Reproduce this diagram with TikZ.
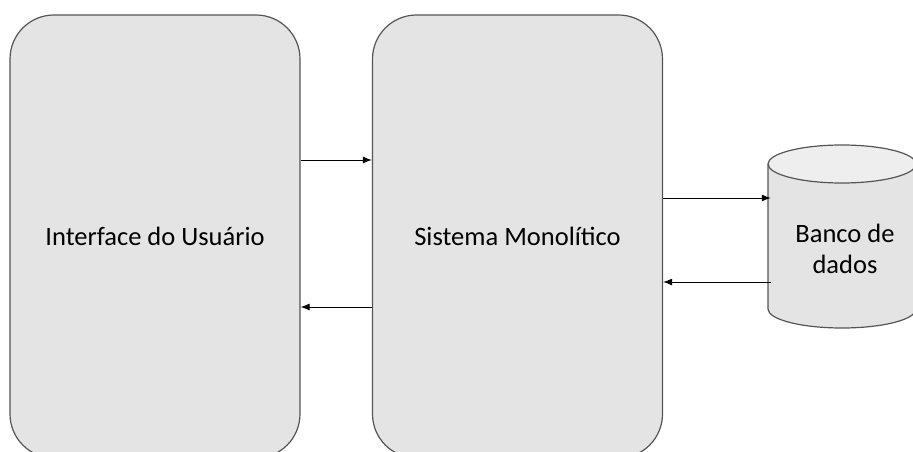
\documentclass[tikz,border=0pt]{standalone}
\usepackage{fontspec}
\setmainfont{Carlito}
\usetikzlibrary{arrows.meta}
\definecolor{boxfill}{HTML}{E4E4E4}
\definecolor{topfill}{HTML}{EEEEEE}
\definecolor{edge}{HTML}{555555}
\begin{document}
\begin{tikzpicture}[
        x=1pt, y=-1pt,
        box/.style={draw=edge, line width=1.2pt, fill=boxfill, rounded corners=44pt, minimum width=290pt, minimum height=443pt, inner sep=0pt, font=\fontsize{26.5}{31}\selectfont},
        link/.style={-{Latex[length=9pt,width=7pt]}, line width=1pt}
    ]
        \useasboundingbox (0,0) rectangle (913,452);
        \clip (0,0) rectangle (913,452);

        \node[box] (ui) at (155,236.5) {Interface do Usuário};
        \node[box] (mono) at (517.5,236.5) {Sistema Monolítico};

        % database cylinder
        \draw[draw=edge, line width=1.2pt, fill=boxfill] (768,164) -- (768,309) arc[start angle=180, end angle=360, x radius=74pt, y radius=19pt] -- (916,164);
        \draw[draw=edge, line width=1.2pt, fill=topfill] (842,164) ellipse[x radius=74pt, y radius=19pt];
        \node[inner sep=0pt, minimum width=148pt, align=center, font=\fontsize{26.5}{31}\selectfont] (db) at (845,249) {Banco de\\dados};

        % request and response arrows
        \draw[link] (ui.east |- 0,160) -- (mono.west |- 0,160);
        \draw[link] (mono.west |- 0,307) -- (ui.east |- 0,307);
        \draw[link] (mono.east |- 0,198) -- (db.west |- 0,198);
        \draw[link] (db.west |- 0,282) -- (mono.east |- 0,282);
\end{tikzpicture}
\end{document}
